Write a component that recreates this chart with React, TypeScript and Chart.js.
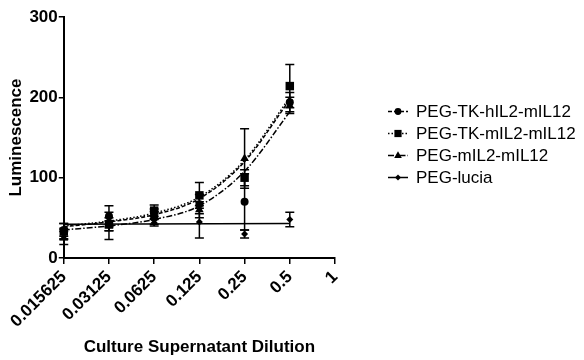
import React, { useEffect, useRef } from "react";
import { Chart, registerables } from "chart.js";
Chart.register(...registerables);

const dilutions = [0.015625, 0.03125, 0.0625, 0.125, 0.25, 0.5];
const xTickValues = [0.015625, 0.03125, 0.0625, 0.125, 0.25, 0.5, 1];
const seriesNames = ["PEG-TK-hIL2-mIL12", "PEG-TK-mIL2-mIL12", "PEG-mIL2-mIL12", "PEG-lucia"];

const hIL2Mean = [35, 52, 50, 67, 70, 194];
const hIL2Err = [8, 13, 8, 12, 35, 12];
const tkmIL2Mean = [33, 42, 59, 78, 100, 214];
const tkmIL2Err = [10, 8, 7, 16, 10, 27];
const mIL2Mean = [25, 40, 55, 60, 124, 190];
const mIL2Err = [8, 17, 6, 10, 37, 10];
const luciaMean = [30, 40, 44, 45, 30, 48];
const luciaErr = [6, 6, 4, 20, 5, 9];

const hIL2Fit = [39, 45, 54, 74, 120, 197];
const tkmIL2Fit = [40, 46, 56, 76, 122, 200];
const mIL2Fit = [35, 40, 48, 65, 108, 182];
const luciaFitX = [0.015625, 0.5];
const luciaFit = [42, 43];

const FONT = "'Liberation Sans', Arial, Helvetica, sans-serif";
const styles = ["circle", "rect", "triangle", "rectRot"];
const radii = [4, 6, 5, 3.5];
const dashes = [[4, 2], [1.5, 2], [6, 2, 1.5, 2], []];
const means = [hIL2Mean, tkmIL2Mean, mIL2Mean, luciaMean];
const errs = [hIL2Err, tkmIL2Err, mIL2Err, luciaErr];
const fits = [hIL2Fit, tkmIL2Fit, mIL2Fit];

function drawMarker(ctx: CanvasRenderingContext2D, style: string, x: number, y: number, r: number) {
  ctx.beginPath();
  if (style === "circle") {
    ctx.arc(x, y, r, 0, Math.PI * 2);
  } else if (style === "rect") {
    const s = r * Math.SQRT1_2;
    ctx.rect(x - s, y - s, 2 * s, 2 * s);
  } else if (style === "triangle") {
    ctx.moveTo(x, y - r);
    ctx.lineTo(x + r * 0.9, y + r * 0.6);
    ctx.lineTo(x - r * 0.9, y + r * 0.6);
    ctx.closePath();
  } else {
    ctx.moveTo(x, y - r);
    ctx.lineTo(x + r, y);
    ctx.lineTo(x, y + r);
    ctx.lineTo(x - r, y);
    ctx.closePath();
  }
  ctx.fill();
}

const errorBarPlugin = {
  id: "errorBars",
  afterDatasetsDraw(chart: any) {
    const ctx = chart.ctx;
    const xs = chart.scales.x;
    const ys = chart.scales.y;
    ctx.save();
    ctx.strokeStyle = "#000";
    ctx.lineWidth = 1.5;
    means.forEach((m, si) => {
      m.forEach((v, i) => {
        const px = xs.getPixelForValue(dilutions[i]);
        const top = ys.getPixelForValue(v + errs[si][i]);
        const bot = ys.getPixelForValue(v - errs[si][i]);
        ctx.beginPath();
        ctx.moveTo(px, top);
        ctx.lineTo(px, bot);
        ctx.moveTo(px - 4.5, top);
        ctx.lineTo(px + 4.5, top);
        ctx.moveTo(px - 4.5, bot);
        ctx.lineTo(px + 4.5, bot);
        ctx.stroke();
      });
    });
    ctx.restore();
  },
};

const legendPlugin = {
  id: "customLegend",
  afterDraw(chart: any) {
    const ctx = chart.ctx;
    ctx.save();
    seriesNames.forEach((name, i) => {
      const y = 111.5 + i * 22;
      ctx.strokeStyle = "#000";
      ctx.fillStyle = "#000";
      ctx.lineWidth = 1.5;
      ctx.setLineDash(dashes[i]);
      ctx.beginPath();
      ctx.moveTo(388, y);
      ctx.lineTo(408, y);
      ctx.stroke();
      ctx.setLineDash([]);
      drawMarker(ctx, styles[i], 398, y, radii[i] * 0.85);
      ctx.font = `17px ${FONT}`;
      ctx.textBaseline = "middle";
      ctx.textAlign = "left";
      ctx.fillText(name, 416, y + 1);
    });
    ctx.restore();
  },
};

export default function App() {
  const ref = useRef<HTMLCanvasElement>(null);
  useEffect(() => {
    if (!ref.current) return;
    const datasets: any[] = [];
    fits.forEach((f, si) => {
      datasets.push({
        label: seriesNames[si] + " fit",
        data: dilutions.map((x, i) => ({ x, y: f[i] })),
        showLine: true,
        borderColor: "#000",
        borderWidth: 1.5,
        borderDash: dashes[si],
        pointRadius: 0,
        cubicInterpolationMode: "monotone",
        fill: false,
      });
    });
    datasets.push({
      label: "PEG-lucia fit",
      data: luciaFitX.map((x, i) => ({ x, y: luciaFit[i] })),
      showLine: true,
      borderColor: "#000",
      borderWidth: 1.5,
      pointRadius: 0,
      fill: false,
    });
    means.forEach((m, si) => {
      datasets.push({
        label: seriesNames[si],
        data: dilutions.map((x, i) => ({ x, y: m[i] })),
        showLine: false,
        pointStyle: styles[si],
        pointRadius: radii[si],
        backgroundColor: "#000",
        borderColor: "#000",
        borderWidth: 0,
      });
    });
    const chart = new Chart(ref.current, {
      type: "scatter",
      data: { datasets },
      plugins: [errorBarPlugin, legendPlugin],
      options: {
        animation: false,
        responsive: false,
        maintainAspectRatio: false,
        clip: false as any,
        layout: { padding: { top: 17, right: 249, left: 6, bottom: 2 } },
        plugins: { legend: { display: false }, tooltip: { enabled: false } },
        scales: {
          x: {
            type: "logarithmic",
            min: 0.015625,
            max: 1,
            afterBuildTicks: (scale: any) => {
              scale.ticks = xTickValues.map((v) => ({ value: v }));
            },
            ticks: {
              autoSkip: false,
              minRotation: 45,
              maxRotation: 45,
              color: "#000",
              font: { family: FONT, size: 17, weight: "bold" },
              padding: 3,
              callback: (v: any) => String(v),
            },
            grid: { display: true, drawOnChartArea: false, drawTicks: true, tickLength: 6, color: "#000", lineWidth: 1.5 },
            border: { display: true, color: "#000", width: 2 },
            title: {
              display: true,
              text: "Culture Supernatant Dilution",
              color: "#000",
              font: { family: FONT, size: 17, weight: "bold" },
              padding: { top: 3, bottom: 0 },
            },
          },
          y: {
            type: "linear",
            min: 0,
            max: 300,
            ticks: {
              stepSize: 100,
              color: "#000",
              font: { family: FONT, size: 17, weight: "bold" },
              padding: 1,
            },
            grid: { display: true, drawOnChartArea: false, drawTicks: true, tickLength: 5, color: "#000", lineWidth: 1.5 },
            border: { display: true, color: "#000", width: 2 },
            title: {
              display: true,
              text: "Luminescence",
              color: "#000",
              font: { family: FONT, size: 17, weight: "bold" },
              padding: { top: 0, bottom: 2 },
            },
          },
        },
      } as any,
    });
    return () => chart.destroy();
  }, []);
  return (
    <div style={{ position: "fixed", left: 0, top: 0, width: 584, height: 360, background: "#fff" }}>
      <canvas ref={ref} width={584} height={360} style={{ width: 584, height: 360 }} />
    </div>
  );
}
